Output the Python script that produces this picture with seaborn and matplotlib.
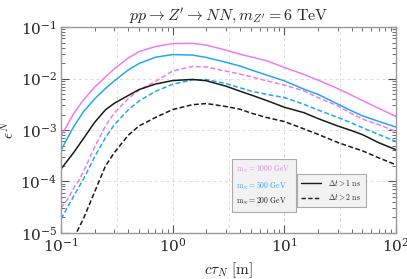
import numpy as np
import pandas as pd
import matplotlib
matplotlib.use("Agg")
import matplotlib.pyplot as plt
from matplotlib.lines import Line2D
from matplotlib.ticker import LogLocator, NullFormatter
import seaborn as sns

# ---- data ----
ctau_grid = [0.1, 0.13, 0.16, 0.2, 0.25, 0.3, 0.4, 0.5, 0.7, 1, 1.5, 2, 3, 4, 5, 7,
             10, 15, 20, 30, 40, 50, 70, 100]

m1000_dt1 = [7.6e-4, 2.10e-3, 3.91e-3, 6.81e-3, 1.08e-2, 1.54e-2, 2.51e-2, 3.34e-2, 4.18e-2,
             4.77e-2, 4.82e-2, 4.47e-2, 3.56e-2, 2.98e-2, 2.64e-2, 2.20e-2, 1.64e-2, 1.20e-2,
             9.35e-3, 6.40e-3, 4.74e-3, 3.74e-3, 2.64e-3, 1.83e-3]
m500_dt1 = [4.09e-4, 1.17e-3, 2.31e-3, 4.03e-3, 6.43e-3, 8.97e-3, 1.47e-2, 1.96e-2, 2.59e-2,
            2.92e-2, 2.86e-2, 2.57e-2, 2.07e-2, 1.75e-2, 1.48e-2, 1.16e-2, 9.02e-3, 6.19e-3,
            4.93e-3, 3.21e-3, 2.36e-3, 1.89e-3, 1.47e-3, 1.14e-3]
m200_dt1 = [1.75e-4, 3.67e-4, 7.00e-4, 1.41e-3, 2.47e-3, 3.31e-3, 4.68e-3, 6.11e-3, 7.81e-3,
            9.14e-3, 9.61e-3, 9.06e-3, 7.11e-3, 5.69e-3, 4.82e-3, 3.72e-3, 2.77e-3, 2.17e-3,
            1.67e-3, 1.20e-3, 9.73e-4, 8.14e-4, 5.67e-4, 4.14e-4]
m500_dt2 = [1.87e-5, 5.22e-5, 1.15e-4, 3.02e-4, 7.14e-4, 1.26e-3, 2.47e-3, 3.67e-3, 5.64e-3,
            7.75e-3, 9.40e-3, 9.57e-3, 8.00e-3, 6.62e-3, 5.71e-3, 4.91e-3, 4.27e-3, 3.15e-3,
            2.45e-3, 1.76e-3, 1.37e-3, 1.11e-3, 8.18e-4, 5.98e-4]

ctau_m1000_dt2 = [0.1, 0.115, 0.13, 0.145, 0.16, 0.2, 0.25, 0.3, 0.4, 0.5, 0.7, 1, 1.5, 2, 3,
                  4, 5, 7, 10, 15, 20, 30, 40, 50, 70, 100]
m1000_dt2 = [3.06e-5, 4.57e-5, 7.48e-5, 1.07e-4, 1.60e-4, 4.68e-4, 1.20e-3, 2.14e-3, 4.09e-3,
             5.98e-3, 8.79e-3, 1.40e-2, 1.71e-2, 1.68e-2, 1.39e-2, 1.22e-2, 1.09e-2, 8.98e-3,
             7.48e-3, 5.72e-3, 4.28e-3, 2.96e-3, 2.09e-3, 1.63e-3, 1.27e-3, 9.35e-4]

ctau_m200_dt2 = [0.13, 0.16, 0.2, 0.25, 0.3, 0.4, 0.5, 0.7, 1, 1.5, 2, 3, 4, 5, 7, 10, 15, 20,
                 30, 40, 50, 70, 100]
m200_dt2 = [7.9e-6, 1.97e-5, 6.31e-5, 2.00e-4, 3.64e-4, 7.93e-4, 1.20e-3, 1.75e-3, 2.50e-3,
            3.10e-3, 3.27e-3, 2.86e-3, 2.54e-3, 2.14e-3, 1.74e-3, 1.46e-3, 1.05e-3, 8.26e-4,
            5.74e-4, 4.63e-4, 3.95e-4, 2.88e-4, 2.11e-4]

mass_labels = ["1000", "500", "200"]
cut_labels = ["dt1", "dt2"]

frames = []
for mass, cut, xs, ys in [
    ("1000", "dt1", ctau_grid, m1000_dt1),
    ("500", "dt1", ctau_grid, m500_dt1),
    ("200", "dt1", ctau_grid, m200_dt1),
    ("1000", "dt2", ctau_m1000_dt2, m1000_dt2),
    ("500", "dt2", ctau_grid, m500_dt2),
    ("200", "dt2", ctau_m200_dt2, m200_dt2),
]:
    frames.append(pd.DataFrame({"ctau": xs, "eff": ys, "mass": mass, "cut": cut}))
df = pd.concat(frames, ignore_index=True)

# ---- style ----
sns.set_style("white")
plt.rcParams["mathtext.fontset"] = "cm"
plt.rcParams["font.family"] = ["DejaVu Serif"]

palette = {"1000": "#f07cf0", "500": "#22a8f2", "200": "#1a1a1a"}
dashes = {"dt1": "", "dt2": (3.2, 1.6)}

fig = plt.figure(figsize=(4.07, 2.79), dpi=100)
ax = fig.add_axes([0.150, 0.165, 0.823, 0.738])

sns.lineplot(data=df, x="ctau", y="eff", hue="mass", style="cut", palette=palette,
             dashes=dashes, hue_order=mass_labels, style_order=cut_labels,
             estimator=None, sort=True, legend=False, linewidth=1.1, ax=ax)

ax.set_xscale("log")
ax.set_yscale("log")
ax.set_xlim(0.1, 100)
ax.set_ylim(1e-5, 1e-1)

# grid: decades horizontally, half-decades vertically
for k in range(-2, 5):
    ax.axvline(10 ** (k / 2), color="#dddddd", lw=0.7, ls=(0, (3, 3)), zorder=0)
for k in range(-5, 0):
    ax.axhline(10.0 ** k, color="#dddddd", lw=0.7, ls=(0, (3, 3)), zorder=0)

ax.xaxis.set_major_locator(LogLocator(base=10, numticks=10))
ax.xaxis.set_minor_locator(LogLocator(base=10, subs=np.arange(2, 10), numticks=20))
ax.yaxis.set_major_locator(LogLocator(base=10, numticks=10))
ax.yaxis.set_minor_locator(LogLocator(base=10, subs=np.arange(2, 10), numticks=20))
ax.xaxis.set_minor_formatter(NullFormatter())
ax.yaxis.set_minor_formatter(NullFormatter())

ax.tick_params(which="both", direction="in", bottom=True, left=True, top=True, right=True,
               color="#555555", labelsize=11, pad=3)
ax.tick_params(which="major", length=6, width=0.8)
ax.tick_params(which="minor", length=3, width=0.6)
for s in ax.spines.values():
    s.set_color("#999999")
    s.set_linewidth(1.0)

ax.set_xlabel(r"$c\tau_N\ [\mathrm{m}]$", fontsize=11, labelpad=4)
ax.set_ylabel(r"$\epsilon^N$", fontsize=11, labelpad=2)
ax.set_title(r"$pp \to Z' \to NN, m_{Z'} = 6\ \mathrm{TeV}$", fontsize=11.5, pad=5)

# legend 1: mass (coloured text only)
mass_text = [r"$\mathrm{m}_N = 1000\ \mathrm{GeV}$", r"$\mathrm{m}_N = 500\ \mathrm{GeV}$",
             r"$\mathrm{m}_N = 200\ \mathrm{GeV}$"]
h1 = [Line2D([], [], color="none") for _ in mass_labels]
leg1 = ax.legend(h1, mass_text, loc="lower left", bbox_to_anchor=(0.51, 0.102),
                 borderaxespad=0, fontsize=5.5, handlelength=0, handletextpad=0,
                 frameon=True, fancybox=False, facecolor="#f2f2f2", edgecolor="#aaaaaa",
                 framealpha=1, labelspacing=0.55, borderpad=0.6)
for t, m in zip(leg1.get_texts(), mass_labels):
    t.set_color(palette[m])
leg1.get_frame().set_linewidth(0.8)
ax.add_artist(leg1)

h2 = [Line2D([], [], color="#1a1a1a", lw=1.0),
      Line2D([], [], color="#1a1a1a", lw=1.0, ls=(0, (3.2, 1.6)))]
leg2 = ax.legend(h2, [r"$\Delta t > 1\ \mathrm{ns}$", r"$\Delta t > 2\ \mathrm{ns}$"],
                 loc="lower left", bbox_to_anchor=(0.704, 0.126), borderaxespad=0,
                 fontsize=5.5, handlelength=2.6, handletextpad=0.9, frameon=True,
                 fancybox=False, facecolor="#f2f2f2", edgecolor="#aaaaaa", framealpha=1,
                 labelspacing=0.6, borderpad=0.6)
leg2.get_frame().set_linewidth(0.8)

fig.savefig("out.png", dpi=100)
